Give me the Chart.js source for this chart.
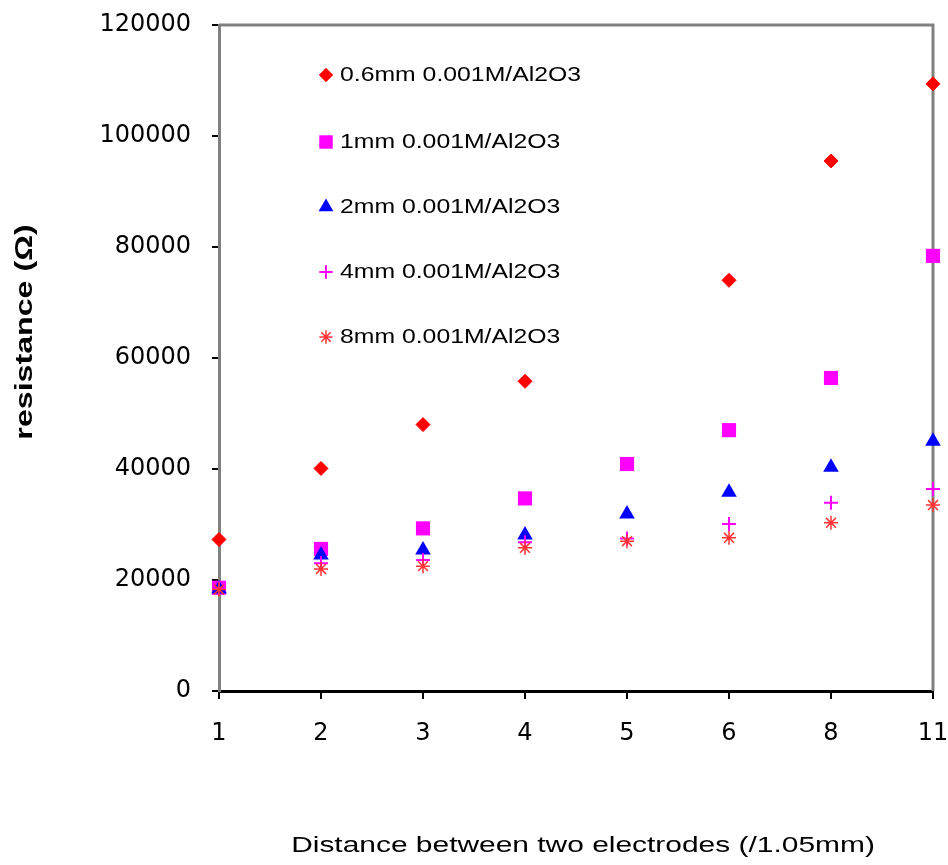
<!DOCTYPE html>
<html>
<head>
<meta charset="utf-8">
<script src="https://cdn.jsdelivr.net/npm/chart.js@4/dist/chart.umd.min.js"></script>
<style>
html,body{margin:0;padding:0;background:#fff;}
#c{display:block;}
</style>
</head>
<body>
<canvas id="c" width="948" height="865"></canvas>
<script>
const categories = ['1', '2', '3', '4', '5', '6', '8', '11'];
const seriesNames = ['0.6mm 0.001M/Al2O3', '1mm 0.001M/Al2O3', '2mm 0.001M/Al2O3', '4mm 0.001M/Al2O3', '8mm 0.001M/Al2O3'];
const r06mm = [27300, 40100, 48000, 55800, null, 74000, 95500, 109400];
const r1mm  = [18600, 25600, 29300, 34700, 40900, 47000, 56400, 78400];
const r2mm  = [18400, 24500, 25400, 28100, 31900, 35800, 40300, 45000];
const r4mm  = [18500, 23000, 23600, 26800, 27500, 30100, 33900, 36400];
const r8mm  = [18300, 22000, 22500, 25800, 27000, 27600, 30300, 33500];
const yTitle = 'resistance (\u03A9)';
const xTitle = 'Distance between two electrodes (/1.05mm)';

const styles = [
  {pointStyle:'rectRot', radius:7, bg:'#ff0000', bc:'#ff0000', bw:1},
  {pointStyle:'rect', radius:10, bg:'#ff00ff', bc:'#ff00ff', bw:0},
  {pointStyle:'triangle', radius:9, bg:'#0000ff', bc:'#0000ff', bw:0},
  {pointStyle:'cross', radius:7, bg:'#ff00ff', bc:'#ff00ff', bw:2},
  {pointStyle:'star', radius:7, bg:'#ff3333', bc:'#ff3333', bw:1.5}
];
const values = [r06mm, r1mm, r2mm, r4mm, r8mm];

const datasets = values.map((v, i) => ({
  label: seriesNames[i],
  data: v,
  showLine: false,
  pointStyle: styles[i].pointStyle,
  pointRadius: styles[i].radius,
  pointHoverRadius: styles[i].radius,
  pointBackgroundColor: styles[i].bg,
  pointBorderColor: styles[i].bc,
  pointBorderWidth: styles[i].bw,
  backgroundColor: styles[i].bg,
  borderColor: styles[i].bc,
  clip: false,
  order: 5 - i
}));

function stretchedText(ctx, text, x, y, font, sx, align, rot) {
  ctx.save();
  ctx.translate(x, y);
  if (rot) ctx.rotate(rot);
  ctx.scale(sx, 1);
  ctx.font = font;
  ctx.fillStyle = '#000';
  ctx.textAlign = align;
  ctx.textBaseline = 'middle';
  ctx.fillText(text, 0, 0);
  ctx.restore();
}

const decor = {
  id: 'decor',
  beforeDatasetsDraw(chart) {
    const ctx = chart.ctx, a = chart.chartArea;
    ctx.save();
    ctx.strokeStyle = '#808080';
    ctx.lineWidth = 3;
    ctx.beginPath();
    ctx.moveTo(a.left, a.top);
    ctx.lineTo(a.right, a.top);
    ctx.lineTo(a.right, a.bottom);
    ctx.stroke();
    ctx.restore();
  },
  afterDraw(chart) {
    const ctx = chart.ctx;
    stretchedText(ctx, yTitle, 25, 332, 'bold 24px "Liberation Sans", Arial, sans-serif', 1.34, 'center', -Math.PI / 2);
    stretchedText(ctx, xTitle, 583, 846, '22px "Liberation Sans", Arial, sans-serif', 1.36, 'center', 0);
    const rows = [75, 142, 207, 272, 337];
    for (let i = 0; i < seriesNames.length; i++) {
      const s = styles[i];
      ctx.save();
      ctx.fillStyle = s.bg;
      ctx.strokeStyle = s.bc;
      ctx.lineWidth = s.bw;
      Chart.helpers.drawPoint(ctx, {pointStyle: s.pointStyle, radius: s.radius * 0.95, rotation: 0, borderWidth: s.bw}, 326, rows[i]);
      ctx.restore();
      stretchedText(ctx, seriesNames[i], 340, rows[i], '21px "Liberation Sans", Arial, sans-serif', 1.18, 'left', 0);
    }
  }
};

new Chart(document.getElementById('c'), {
  type: 'line',
  data: { labels: categories, datasets: datasets },
  plugins: [decor],
  options: {
    responsive: false,
    animation: false,
    devicePixelRatio: 1,
    layout: { padding: { left: 0, top: 25, right: 15, bottom: 0 } },
    plugins: { legend: { display: false }, tooltip: { enabled: false } },
    scales: {
      x: {
        type: 'category',
        offset: false,
        grid: { display: true, drawOnChartArea: false, drawTicks: true, tickLength: 8, color: '#000', lineWidth: 2 },
        border: { display: true, color: '#000', width: 3 },
        ticks: { color: '#000', padding: 20, maxRotation: 0, autoSkip: false, font: { family: '"DejaVu Sans", sans-serif', size: 24 } },
        afterFit(scale) { scale.height = 174; scale.paddingLeft = 0; scale.paddingRight = 0; }
      },
      y: {
        min: 0, max: 120000,
        grid: { display: true, drawOnChartArea: false, drawTicks: true, tickLength: 7, color: '#000', lineWidth: 2 },
        border: { display: true, color: '#808080', width: 3 },
        ticks: { stepSize: 20000, color: '#000', padding: 21, font: { family: '"DejaVu Sans", sans-serif', size: 24 }, callback: v => String(v) },
        afterFit(scale) { scale.width = 219; scale.paddingTop = 0; scale.paddingBottom = 0; }
      }
    }
  }
});
</script>
</body>
</html>
